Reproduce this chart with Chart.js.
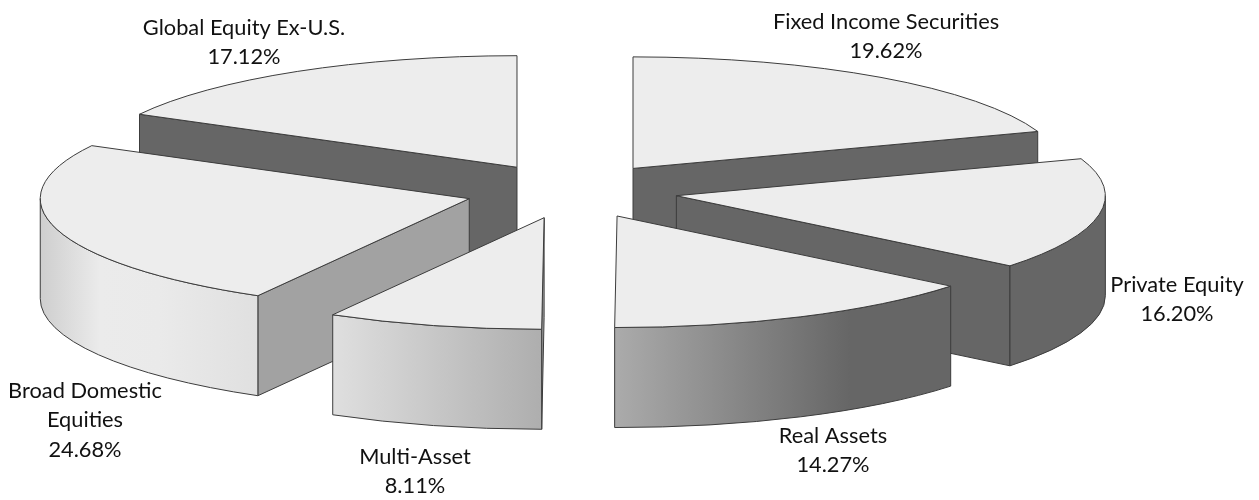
<!DOCTYPE html>
<html>
<head>
<meta charset="utf-8">
<style>
  html, body { margin: 0; background: #fff; }
  canvas { display: block; }
</style>
<script src="https://cdn.jsdelivr.net/npm/chart.js@4/dist/chart.umd.min.js"></script>
</head>
<body>
<canvas id="pie" width="1259" height="500"></canvas>
<script>
const categories = [
  "Fixed Income Securities",
  "Private Equity",
  "Real Assets",
  "Multi-Asset",
  "Broad Domestic Equities",
  "Global Equity Ex-U.S.",
];
const allocations = [19.62, 16.2, 14.27, 8.11, 24.68, 17.12];

// text layout for each slice, same order as categories
const labelLines = [
  ["Fixed Income Securities"],
  ["Private Equity"],
  ["Real Assets"],
  ["Multi-Asset"],
  ["Broad Domestic", "Equities"],
  ["Global Equity Ex-U.S."],
];
const labelAnchors = [
  [886, 29],
  [1177, 292],
  [833, 443],
  [415, 464],
  [85, 398],
  [244, 35],
];
const cutFaceColors = ["#666666", "#666666", "#666666", "#a9a9a9", "#a2a2a2", "#666666"];

const SQUASH = 0.26;
const EXPLODE = 106.4;
const DEPTH = 100;
const RADIUS = 429;

// draws the doughnut arcs as a tilted, exploded 3D pie
class Pie3dController extends Chart.PieController {
  draw() {
    const ctx = this.chart.ctx;
    const arcs = this.getMeta().data;

    const wallShade = ctx.createLinearGradient(40, 0, 1105, 0);
    const shadeStops = [
      [40, "#cecece"], [100, "#ebebeb"], [160, "#eaeaea"], [257, "#e0e0e0"],
      [333, "#dfdfdf"], [542, "#aeaeae"], [615, "#ababab"], [850, "#666666"], [1105, "#666666"],
    ];
    shadeStops.forEach(([x, c]) => wallShade.addColorStop((x - 40) / 1065, c));

    const slices = arcs.map((arc, i) => {
      const mid = (arc.startAngle + arc.endAngle) / 2;
      return {
        i,
        arc,
        mid,
        x: arc.x + Math.cos(mid) * EXPLODE,
        y: arc.y + Math.sin(mid) * EXPLODE * SQUASH,
      };
    });

    ctx.save();
    ctx.lineWidth = 1;
    ctx.lineJoin = "round";
    ctx.strokeStyle = "#3c3c3c";

    // back slices first so the front ones paint over them
    slices
      .slice()
      .sort((a, b) => Math.sin(a.mid) - Math.sin(b.mid))
      .forEach((s) => {
        const rx = s.arc.outerRadius;
        const ry = rx * SQUASH;
        const px = (a) => s.x + Math.cos(a) * rx;
        const py = (a) => s.y + Math.sin(a) * ry;

        // a cut face shows only when it turns towards the viewer
        const faces = [];
        if (Math.cos(s.arc.startAngle) < 0) faces.push(s.arc.startAngle);
        if (Math.cos(s.arc.endAngle) > 0) faces.push(s.arc.endAngle);
        faces.forEach((a) => {
          ctx.beginPath();
          ctx.moveTo(s.x, s.y);
          ctx.lineTo(px(a), py(a));
          ctx.lineTo(px(a), py(a) + DEPTH);
          ctx.lineTo(s.x, s.y + DEPTH);
          ctx.closePath();
          ctx.fillStyle = cutFaceColors[s.i];
          ctx.fill();
          ctx.stroke();
        });

        // the rim only shows on the near half of the ellipse
        const from = Math.max(s.arc.startAngle, 0);
        const to = Math.min(s.arc.endAngle, Math.PI);
        if (to > from) {
          ctx.beginPath();
          ctx.ellipse(s.x, s.y, rx, ry, 0, from, to);
          ctx.lineTo(px(to), py(to) + DEPTH);
          ctx.ellipse(s.x, s.y + DEPTH, rx, ry, 0, to, from, true);
          ctx.closePath();
          ctx.fillStyle = wallShade;
          ctx.fill();
          ctx.stroke();
        }

        ctx.beginPath();
        ctx.moveTo(s.x, s.y);
        ctx.ellipse(s.x, s.y, rx, ry, 0, s.arc.startAngle, s.arc.endAngle);
        ctx.closePath();
        ctx.fillStyle = s.arc.options.backgroundColor;
        ctx.fill();
        ctx.stroke();
      });
    ctx.restore();
  }
}
Pie3dController.id = "pie3d";
Pie3dController.defaults = Chart.PieController.defaults;
Chart.register(Pie3dController);

const sliceLabels = {
  id: "sliceLabels",
  afterDatasetsDraw(chart) {
    const ctx = chart.ctx;
    ctx.save();
    ctx.font = '21.8px Lato, "Open Sans", sans-serif';
    ctx.fillStyle = "#111111";
    ctx.textAlign = "center";
    allocations.forEach((v, i) => {
      const [x, y] = labelAnchors[i];
      const lines = labelLines[i].concat(v.toFixed(2) + "%");
      lines.forEach((t, n) => ctx.fillText(t, x, y + n * 29.3));
    });
    ctx.restore();
  },
};

new Chart(document.getElementById("pie"), {
  type: "pie3d",
  data: {
    labels: categories,
    datasets: [
      {
        data: allocations,
        backgroundColor: "#ededed",
        clip: false,
      },
    ],
  },
  options: {
    responsive: false,
    animation: false,
    radius: RADIUS,
    // moves the pie centre up and left of the canvas centre
    layout: { padding: { right: 116, bottom: 118 } },
    plugins: { legend: { display: false }, tooltip: { enabled: false } },
  },
  plugins: [sliceLabels],
});
</script>
</body>
</html>
